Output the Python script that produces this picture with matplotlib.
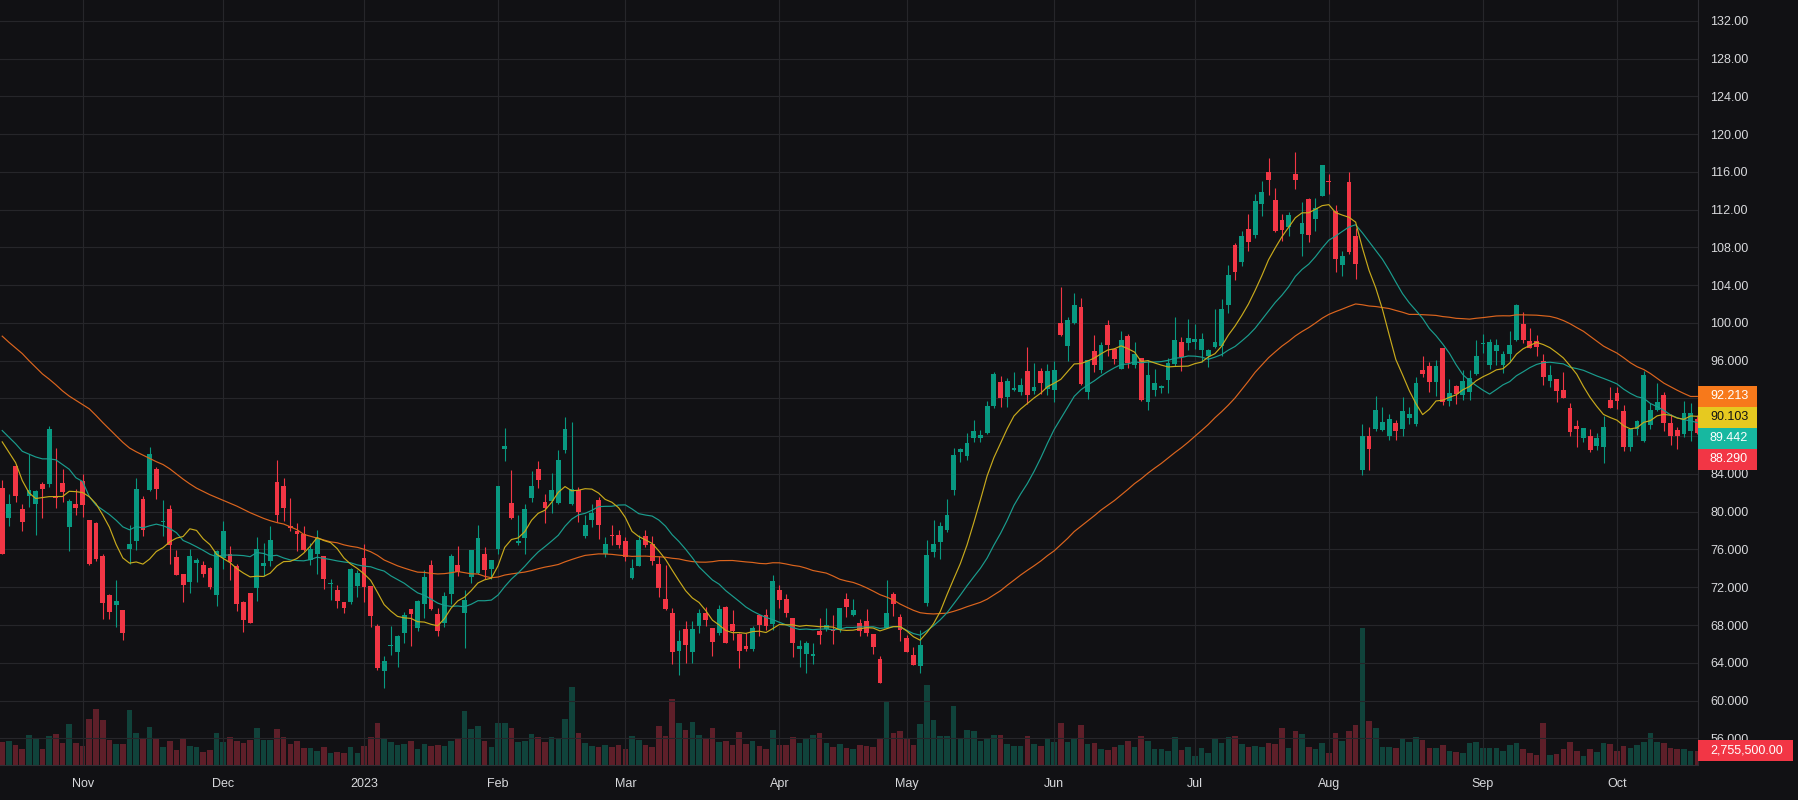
import numpy as np
import pandas as pd
import matplotlib
matplotlib.use("Agg")
import matplotlib.pyplot as plt
from matplotlib.patches import Rectangle
from matplotlib.transforms import IdentityTransform

# ---------------- data ----------------
opens = [82.56, 79.34, 84.82, 80.26, 81.64, 80.83, 82.98, 82.95, 81.7, 83.0,
         78.39, 80.86, 83.23, 79.1, 78.81, 75.28, 71.15, 70.12, 69.63, 76.06,
         76.9, 81.32, 82.28, 84.5, 78.9, 80.26, 75.2, 73.37, 72.56, 74.57,
         74.33, 74.04, 71.18, 75.1, 75.49, 74.26, 70.44, 71.4, 71.9, 74.26,
         74.75, 83.12, 82.7, 78.46, 77.93, 77.68, 74.93, 75.56, 75.28, 72.3,
         71.67, 70.44, 70.44, 72.13, 75.14, 72.1, 67.86, 63.12, 65.77, 65.14,
         67.15, 69.73, 67.7, 70.19, 74.4, 69.2, 68.2, 71.32, 74.4, 69.3,
         73.09, 73.51, 75.49, 73.97, 76.02, 86.66, 80.97, 76.69, 77.22, 81.46,
         84.57, 81.04, 81.15, 80.93, 86.52, 80.86, 82.35, 77.4, 79.1, 81.22,
         75.5, 77.57, 77.58, 76.87, 72.98, 74.26, 77.4, 76.55, 74.5, 70.8,
         69.27, 65.24, 67.54, 65.14, 67.86, 69.27, 67.68, 67.15, 69.87, 68.07,
         67.01, 65.77, 65.49, 69.03, 69.03, 68.14, 71.67, 70.72, 68.78, 65.5,
         64.89, 64.72, 67.33, 67.62, 67.47, 67.47, 70.8, 69.03, 68.2, 68.39,
         67.0, 64.4, 67.72, 71.32, 68.85, 66.66, 64.82, 63.67, 70.36, 75.75,
         76.79, 78.05, 82.33, 86.34, 85.9, 87.83, 87.83, 88.39, 91.25, 93.74,
         92.18, 92.92, 92.7, 94.9, 92.81, 94.9, 93.0, 92.92, 99.99, 97.57,
         99.99, 101.66, 92.7, 97.0, 95.0, 99.76, 97.23, 95.15, 98.61, 95.52,
         96.27, 91.66, 92.92, 93.07, 93.96, 95.64, 97.94, 97.9, 98.01, 97.18,
         96.47, 97.46, 97.6, 101.95, 108.3, 106.43, 110.0, 109.36, 112.65, 116.03,
         113.07, 110.95, 110.14, 115.82, 109.47, 113.18, 111.06, 113.42, 115.08, 111.83,
         106.18, 114.9, 109.26, 84.4, 88.07, 88.81, 88.7, 88.07, 89.41, 88.81,
         89.94, 89.34, 95.06, 95.48, 93.72, 97.36, 91.7, 93.37, 92.34, 92.66,
         94.64, 97.8, 95.59, 97.02, 95.59, 96.66, 98.17, 99.88, 98.09, 98.09,
         95.95, 93.8, 94.09, 92.9, 91.01, 89.07, 87.82, 87.97, 87.0, 86.89,
         91.83, 92.55, 90.65, 86.82, 88.72, 87.54, 89.22, 90.76, 92.37, 89.4,
         88.68, 88.25, 88.5, 89.86]

highs = [83.34, 81.92, 85.1, 80.86, 86.16, 82.35, 83.16, 89.06, 86.7, 84.57,
         81.4, 82.45, 84.04, 79.17, 78.92, 75.56, 71.32, 72.74, 69.63, 78.64,
         83.6, 81.67, 86.87, 84.75, 81.2, 80.76, 75.9, 73.37, 76.0, 75.1,
         74.78, 74.15, 75.9, 79.0, 76.34, 74.5, 70.5, 71.4, 77.3, 76.73,
         78.46, 85.46, 83.6, 81.5, 78.85, 78.46, 76.73, 78.04, 75.28, 72.9,
         72.2, 70.44, 74.04, 73.8, 76.62, 72.1, 68.07, 64.68, 67.86, 66.98,
         69.34, 69.73, 70.6, 73.8, 74.93, 69.8, 71.5, 75.5, 76.41, 71.7,
         75.98, 78.64, 76.27, 74.93, 82.7, 88.88, 84.4, 79.63, 80.79, 84.33,
         85.4, 81.92, 84.11, 86.52, 90.05, 89.52, 82.63, 79.63, 80.86, 81.57,
         77.33, 78.6, 78.04, 77.33, 75.03, 77.5, 78.1, 77.4, 75.28, 74.33,
         69.84, 67.5, 68.4, 68.4, 69.73, 69.9, 67.68, 70.08, 70.0, 69.55,
         67.19, 67.19, 67.86, 69.03, 69.73, 73.34, 72.2, 71.32, 68.78, 66.38,
         66.3, 66.13, 68.78, 69.8, 69.03, 69.84, 71.4, 70.8, 68.64, 69.7,
         67.08, 64.72, 72.74, 71.5, 69.2, 66.94, 65.7, 67.5, 77.05, 79.17,
         78.91, 81.4, 86.79, 86.79, 88.31, 89.76, 88.65, 91.73, 94.78, 94.33,
         94.15, 94.78, 94.15, 97.42, 95.75, 95.26, 95.64, 96.0, 103.8, 100.65,
         103.14, 102.62, 96.08, 98.68, 97.94, 100.28, 97.3, 99.1, 98.8, 97.98,
         96.27, 96.12, 95.08, 93.4, 96.27, 100.65, 98.5, 100.4, 99.84, 98.94,
         97.29, 101.5, 102.58, 106.11, 108.48, 109.7, 111.59, 113.7, 115.08, 117.52,
         114.3, 111.59, 111.73, 118.08, 112.79, 113.25, 113.25, 116.78, 115.82, 112.54,
         107.67, 115.96, 110.07, 89.34, 88.95, 92.24, 91.07, 90.4, 89.77, 92.17,
         91.07, 94.28, 96.54, 95.87, 96.05, 97.36, 94.11, 93.47, 95.06, 95.0,
         98.24, 98.88, 98.27, 98.27, 97.02, 99.17, 102.03, 101.14, 99.45, 98.74,
         96.66, 95.52, 94.09, 94.8, 91.47, 89.68, 88.9, 88.79, 88.32, 90.15,
         93.26, 93.26, 91.29, 88.79, 89.76, 94.87, 91.47, 93.62, 92.65, 90.4,
         88.97, 91.72, 91.54, 90.3]

lows = [75.5, 78.46, 81.04, 77.93, 80.51, 77.5, 79.31, 82.63, 80.4, 81.04,
        75.84, 79.63, 79.45, 74.36, 74.78, 68.6, 68.6, 67.79, 66.45, 74.5,
        75.9, 77.4, 82.2, 81.32, 77.4, 74.43, 73.3, 70.44, 71.4, 72.56,
        73.09, 71.85, 70.0, 73.97, 72.74, 69.48, 67.26, 68.2, 70.5, 73.16,
        74.26, 78.92, 79.0, 77.96, 75.84, 75.84, 74.33, 73.44, 71.78, 70.7,
        69.8, 69.27, 70.2, 70.97, 70.44, 67.8, 63.27, 61.36, 64.78, 63.55,
        66.13, 65.77, 67.36, 68.74, 69.55, 66.84, 67.8, 70.19, 73.2, 65.6,
        72.45, 73.44, 72.84, 72.84, 75.56, 85.39, 79.27, 76.45, 75.49, 81.04,
        82.56, 78.81, 79.87, 80.86, 86.23, 80.69, 78.92, 77.26, 78.39, 77.15,
        75.2, 76.45, 76.2, 74.75, 72.84, 74.26, 76.27, 74.4, 70.97, 69.55,
        63.9, 62.7, 63.95, 63.95, 67.19, 67.86, 64.68, 66.9, 66.09, 66.38,
        63.44, 65.24, 65.24, 66.84, 67.43, 67.43, 69.84, 68.85, 64.61, 63.58,
        62.9, 63.83, 65.98, 67.36, 66.02, 67.29, 68.85, 68.92, 66.84, 66.84,
        64.96, 61.9, 67.65, 68.99, 66.3, 65.1, 63.76, 62.92, 69.99, 75.19,
        75.0, 77.8, 81.8, 85.3, 85.52, 87.35, 87.35, 88.2, 90.99, 91.06,
        91.1, 92.74, 92.4, 91.36, 92.48, 92.48, 92.4, 91.66, 98.6, 96.0,
        99.9, 93.41, 91.96, 94.82, 94.7, 96.5, 95.64, 95.15, 95.26, 95.26,
        91.73, 90.8, 92.29, 92.59, 92.55, 95.45, 94.9, 97.16, 97.2, 95.87,
        95.3, 97.36, 96.54, 101.06, 104.6, 106.08, 107.6, 108.97, 111.3, 113.53,
        109.6, 108.66, 109.26, 114.23, 107.07, 108.55, 109.72, 113.42, 113.7, 105.37,
        104.95, 107.31, 104.7, 83.87, 84.47, 88.53, 88.6, 87.57, 87.57, 88.07,
        89.34, 89.06, 94.28, 92.66, 92.24, 91.35, 91.18, 91.46, 91.88, 91.81,
        94.53, 96.84, 95.12, 95.59, 94.69, 95.88, 98.09, 97.92, 97.31, 96.48,
        93.44, 93.26, 91.65, 92.01, 88.07, 86.9, 87.36, 86.28, 86.57, 85.21,
        90.94, 90.83, 86.39, 86.46, 88.14, 87.43, 88.79, 90.65, 88.5, 87.07,
        86.64, 87.9, 87.54, 88.2]

closes = [75.56, 80.79, 81.64, 78.92, 82.35, 82.17, 82.38, 88.74, 81.5, 82.06,
          81.1, 80.4, 80.72, 74.43, 74.96, 70.33, 69.38, 70.51, 67.15, 76.55,
          82.38, 78.11, 86.09, 82.42, 79.0, 76.52, 73.3, 72.24, 75.31, 74.85,
          73.44, 72.03, 75.81, 77.93, 74.68, 70.23, 68.5, 68.21, 76.0, 74.57,
          76.98, 79.63, 80.4, 78.25, 77.68, 75.92, 76.0, 77.22, 72.84, 72.4,
          70.54, 69.8, 73.97, 73.51, 72.03, 68.95, 63.44, 64.15, 65.92, 66.8,
          69.03, 69.2, 70.5, 73.1, 69.66, 67.36, 71.04, 75.28, 73.62, 70.7,
          75.98, 77.26, 73.86, 74.85, 82.7, 86.94, 79.38, 76.94, 80.33, 82.7,
          83.4, 80.44, 82.28, 85.46, 88.78, 82.45, 79.98, 78.57, 79.91, 78.57,
          76.62, 77.4, 76.45, 75.2, 74.08, 76.98, 76.45, 74.78, 71.92, 69.66,
          65.14, 66.3, 65.84, 67.54, 69.27, 68.5, 66.2, 69.66, 66.09, 67.33,
          65.24, 65.49, 67.72, 67.96, 67.86, 72.63, 70.62, 69.27, 66.09, 65.77,
          66.13, 64.89, 66.98, 68.04, 67.36, 69.84, 69.9, 69.55, 67.4, 67.15,
          65.66, 61.9, 69.27, 70.26, 67.5, 65.17, 63.76, 65.86, 75.38, 76.56,
          78.54, 79.65, 85.97, 86.64, 87.27, 88.54, 88.13, 91.25, 94.6, 92.07,
          93.81, 93.11, 93.4, 92.4, 93.18, 93.67, 94.9, 95.0, 98.72, 100.28,
          101.88, 93.52, 96.08, 95.56, 97.68, 97.68, 96.19, 98.16, 95.71, 96.71,
          91.8, 94.48, 93.63, 93.29, 95.75, 98.16, 96.38, 98.39, 98.27, 98.34,
          97.18, 98.03, 101.52, 105.05, 105.37, 109.26, 108.55, 112.89, 113.85, 115.19,
          109.79, 109.82, 111.48, 115.19, 110.6, 109.36, 112.19, 116.78, 114.9, 106.82,
          107.14, 107.49, 106.29, 88.07, 86.69, 90.82, 89.52, 89.87, 88.53, 90.72,
          90.4, 93.65, 94.64, 93.72, 95.48, 91.6, 92.59, 92.48, 93.9, 94.18,
          96.54, 97.85, 97.99, 97.67, 96.73, 97.67, 101.92, 98.17, 97.38, 97.49,
          94.25, 94.52, 92.83, 92.01, 88.43, 88.72, 88.9, 86.57, 87.82, 88.97,
          91.01, 91.76, 86.89, 88.74, 89.58, 94.44, 90.76, 91.58, 89.43, 88.0,
          88.07, 90.41, 90.47, 88.29]

# volume in millions of shares
volumes_m = [4.49, 4.62, 3.85, 3.08, 5.78, 5.01, 3.08, 5.59, 5.97, 4.24,
             7.90, 4.24, 3.66, 8.86, 10.79, 8.67, 4.82, 4.05, 4.05, 10.60,
             6.17, 5.01, 7.32, 5.01, 3.47, 4.62, 2.89, 5.20, 3.66, 3.47,
             2.51, 2.89, 6.17, 4.43, 5.40, 4.62, 4.24, 4.82, 7.13, 4.82,
             4.82, 6.94, 5.40, 4.05, 4.62, 3.28, 3.28, 2.70, 3.47, 2.31,
             2.51, 2.31, 3.47, 2.31, 3.66, 5.40, 8.09, 5.20, 4.43, 3.85,
             4.05, 4.62, 3.08, 4.05, 3.66, 3.85, 3.66, 4.62, 5.01, 10.41,
             6.94, 7.52, 4.62, 3.47, 8.09, 8.09, 7.13, 4.43, 4.62, 5.97,
             5.40, 4.43, 5.40, 5.01, 8.86, 15.03, 6.17, 4.24, 3.66, 3.47,
             3.85, 3.47, 3.85, 3.08, 5.59, 4.82, 3.85, 3.47, 7.52, 5.59,
             12.72, 8.09, 6.74, 8.29, 5.78, 5.01, 7.13, 4.43, 4.62, 3.85,
             6.36, 4.05, 4.62, 3.66, 3.08, 6.74, 3.85, 3.85, 5.40, 4.24,
             5.01, 5.78, 6.17, 4.24, 3.47, 4.05, 3.28, 3.08, 3.85, 3.66,
             3.47, 5.20, 12.14, 6.17, 6.55, 5.01, 3.85, 7.90, 15.42, 8.67,
             5.59, 5.59, 11.37, 5.20, 6.74, 6.55, 4.62, 5.20, 5.78, 5.78,
             4.05, 3.66, 3.66, 5.59, 4.05, 3.66, 5.01, 4.43, 8.09, 4.43,
             5.01, 7.71, 4.05, 4.24, 3.08, 2.89, 3.47, 3.85, 4.62, 3.47,
             5.59, 4.62, 3.08, 3.08, 2.70, 5.40, 2.89, 3.47, 1.73, 3.28,
             2.31, 5.20, 4.24, 5.40, 5.59, 4.05, 3.47, 3.66, 3.47, 4.24,
             4.05, 7.13, 3.28, 6.55, 5.97, 3.47, 3.08, 4.24, 2.31, 6.17,
             4.62, 6.55, 7.71, 26.40, 8.48, 7.13, 3.47, 3.47, 3.28, 5.20,
             4.43, 5.40, 4.82, 3.28, 3.28, 3.85, 2.70, 2.51, 2.31, 4.24,
             4.43, 3.28, 3.28, 3.28, 2.70, 3.85, 4.24, 3.08, 2.31, 1.93,
             8.09, 1.93, 2.12, 3.08, 4.43, 2.70, 1.73, 3.08, 2.51, 4.24,
             4.05, 2.70, 3.66, 3.28, 3.85, 4.43, 6.17, 4.43, 4.24, 3.28,
             3.08, 3.08, 2.70, 2.7555]

# moving-average values before enough visible closes exist
sma10_lead = [87.4, 86.3, 85.2, 83.3, 82.0, 81.4, 81.5, 81.6, 81.6]
sma20_lead = [88.6, 87.9, 87.2, 86.4, 86.1, 85.8, 85.6, 85.6, 85.5, 85.0,
              84.5, 83.6, 83.2, 81.6, 80.7, 80.2, 79.7, 79.1, 78.4]
sma50_lead = [98.6, 97.95, 97.35, 96.75, 96.0, 95.3, 94.6, 94.05, 93.45, 92.8,
              92.25, 91.8, 91.35, 90.9, 90.2, 89.45, 88.75, 88.05, 87.35, 86.75,
              86.35, 86.0, 85.65, 85.3, 85.0, 84.55, 84.0, 83.45, 82.95, 82.5,
              82.15, 81.8, 81.5, 81.2, 80.9, 80.6, 80.25, 79.9, 79.6, 79.3,
              79.05, 78.85, 78.7, 78.4, 78.1, 77.6, 77.4, 77.2, 77.0]

holidays = ["2022-11-24", "2022-12-26", "2023-01-02", "2023-01-16", "2023-02-20",
            "2023-04-07", "2023-05-29", "2023-06-19", "2023-07-04", "2023-09-04"]
dates = pd.bdate_range("2022-10-14", "2023-10-18", freq="C", holidays=holidays)

price_ticks = list(range(56, 133, 4))

# ---------------- style ----------------
BG = "#111114"
GRID = "#26262a"
BORDER = "#2e2e33"
TXT = "#d8d9dc"
UP, DN = "#089981", "#f23645"
VUP, VDN = "#10433b", "#5e1f29"
C_ORG_L, C_ORG = "#dc651e", "#f7791b"
C_YEL_L, C_YEL = "#c8aa1c", "#e6c920"
C_TEA_L, C_TEA = "#1a9d8e", "#17b8a0"

plt.rcParams["font.family"] = ["Liberation Sans", "DejaVu Sans"]

W, H = 1798, 800
PLOT_R, PLOT_B = 1698, 765

o = np.array(opens); h = np.array(highs); l = np.array(lows); c = np.array(closes)
vol = np.array(volumes_m)
n = len(c)
x = np.arange(n)

cs = pd.Series(c)
def sma(period, lead):
    s = cs.rolling(period).mean().to_numpy()
    s[:period - 1] = lead
    return s
ma10 = sma(10, sma10_lead)
ma20 = sma(20, sma20_lead)
ma50 = sma(50, sma50_lead)

fig = plt.figure(figsize=(W / 100, H / 100), dpi=100)
fig.patch.set_facecolor(BG)
rect = [0, (H - PLOT_B) / H, PLOT_R / W, PLOT_B / H]

vax = fig.add_axes(rect)
ax = fig.add_axes(rect, sharex=vax)
ax.patch.set_alpha(0)

xlo, xhi = -0.33, 253.1

# volume
up = c >= o
vax.bar(x, vol, width=0.84, color=np.where(up, VUP, VDN), linewidth=0)
vax.set_ylim(0, vol.max() / 0.179)
vax.set_xlim(xlo, xhi)
vax.axis("off")

# candles
cols = np.where(up, UP, DN)
ax.vlines(x, l, h, colors=cols, linewidth=0.8, zorder=2)
ax.bar(x, np.maximum(np.abs(c - o), 0.11), bottom=np.minimum(o, c), width=0.72,
       color=cols, linewidth=0, zorder=3)

# moving averages
ax.plot(x, ma50, color=C_ORG_L, lw=0.85, zorder=4)
ax.plot(x, ma20, color=C_TEA_L, lw=0.85, zorder=4)
ax.plot(x, ma10, color=C_YEL_L, lw=0.85, zorder=4)

ax.set_xlim(xlo, xhi)
ax.set_ylim(53.17, 134.21)

month_idx = [i for i in range(1, n) if dates[i].month != dates[i - 1].month]
month_lab = [str(dates[i].year) if dates[i].month == 1 else dates[i].strftime("%b")
             for i in month_idx]
ax.set_xticks(month_idx)
ax.set_xticklabels(month_lab)
ax.tick_params(axis="x", length=0, pad=9.6, labelsize=9, labelcolor=TXT)

ax.grid(True, color=GRID, linewidth=0.8)
ax.set_axisbelow(True)
for s in ["top", "left"]:
    ax.spines[s].set_visible(False)
for s in ["right", "bottom"]:
    ax.spines[s].set_color(BORDER)
    ax.spines[s].set_linewidth(0.8)

ax.set_yticks(price_ticks)
ax.yaxis.tick_right()
ax.tick_params(axis="y", length=0, pad=9, labelsize=9, labelcolor=TXT)

# last-value labels on the price scale (stacked so they do not collide)
ident = IdentityTransform()
BOX_H = 21
labels = [(ma50[-1], C_ORG, "white"), (ma10[-1], C_YEL, "#131313"),
          (ma20[-1], C_TEA, "white"), (c[-1], DN if c[-1] < o[-1] else UP, "white")]
labels.sort(key=lambda t: -t[0])
boxes = []
prev = None
for val, bg, fg in labels:
    yc = ax.transData.transform((0, val))[1]
    if prev is not None and yc > prev - BOX_H:
        yc = prev - BOX_H
    prev = yc
    boxes.append((yc, val, bg, fg))

# tick labels fully hidden behind a value box are left blank
tick_txt = []
for v in price_ticks:
    ty = ax.transData.transform((0, v))[1]
    hidden = any(abs(ty - b[0]) < BOX_H / 2 - 3 for b in boxes)
    tick_txt.append("" if hidden else (f"{v:.2f}" if v >= 100 else f"{v:.3f}"))
ax.set_yticklabels(tick_txt)

for yc, val, bg, fg in boxes:
    fig.add_artist(Rectangle((PLOT_R, yc - BOX_H / 2), 59, BOX_H, transform=ident,
                             facecolor=bg, edgecolor="none", zorder=5))
    fig.text(1710, yc, f"{val:.3f}", transform=ident, ha="left", va="center",
             fontsize=9, color=fg, zorder=6)

# last volume label
yv = vax.transData.transform((0, vol[-1]))[1]
fig.add_artist(Rectangle((PLOT_R, yv - BOX_H / 2), 95, BOX_H, transform=ident,
                         facecolor=DN if c[-1] < o[-1] else UP, edgecolor="none", zorder=5))
fig.text(1710, yv, f"{vol[-1] * 1e6:,.2f}", transform=ident, ha="left", va="center",
         fontsize=9, color="white", zorder=6)

fig.savefig("out.png", dpi=100, facecolor=BG)
